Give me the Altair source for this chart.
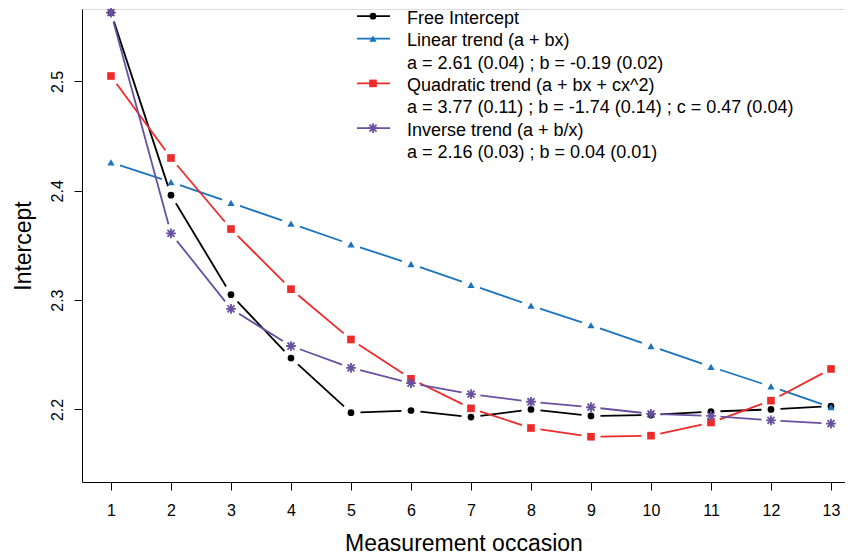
import altair as alt
import pandas as pd

# ---------------- data ----------------
occasion = list(range(1, 14))
free_intercept = [2.563, 2.396, 2.305, 2.247, 2.197, 2.199, 2.193, 2.200, 2.194, 2.195, 2.198, 2.200, 2.203]
linear_trend = [2.426, 2.408, 2.389, 2.370, 2.351, 2.333, 2.314, 2.295, 2.277, 2.258, 2.239, 2.221, 2.202]
quadratic_trend = [2.505, 2.430, 2.365, 2.310, 2.264, 2.228, 2.201, 2.183, 2.175, 2.176, 2.188, 2.208, 2.237]
inverse_trend = [2.563, 2.361, 2.292, 2.258, 2.238, 2.224, 2.214, 2.207, 2.202, 2.196, 2.194, 2.190, 2.187]

series_names = ["Free Intercept", "Linear trend", "Quadratic trend", "Inverse trend"]
series_values = [free_intercept, linear_trend, quadratic_trend, inverse_trend]

legend_texts = [
    "Free Intercept",
    "Linear trend (a + bx)",
    "a = 2.61 (0.04) ; b = -0.19 (0.02)",
    "Quadratic trend (a + bx + cx^2)",
    "a = 3.77 (0.11) ; b = -1.74 (0.14) ; c = 0.47 (0.04)",
    "Inverse trend (a + b/x)",
    "a = 2.16 (0.03) ; b = 0.04 (0.01)",
]
legend_series = ["Free Intercept", "Linear trend", "", "Quadratic trend", "", "Inverse trend", ""]

x_ticks = list(range(1, 14))
y_ticks = [2.2, 2.3, 2.4, 2.5]

# ---------------- styling ----------------
colors = ["#000000", "#1A73BE", "#EE2B2B", "#6950A0"]
ASTERISK = "M-1,0L1,0M0,-1L0,1M-0.72,-0.72L0.72,0.72M-0.72,0.72L0.72,-0.72"
shapes = ["circle", "triangle-up", "square", "circle"]
sizes = [45, 65, 50, 45]
FONT = "Liberation Sans"
NARROW = "'Liberation Sans Narrow', 'Liberation Sans', Arial, sans-serif"

PAD_L, PAD_T = 74, 1
W, H = 763, 473
X_DOM = [0.517, 0.517 + W / 60.0]
Y_DOM = [2.1336, 2.5663]
PX_X = W / (X_DOM[1] - X_DOM[0])   # px per x unit
PX_Y = H / (Y_DOM[1] - Y_DOM[0])   # px per y unit
GAP = 9.5                           # R type="b": px of line left out round each point

rows, pairs = [], []
for name, vals in zip(series_names, series_values):
    for o, v in zip(occasion, vals):
        rows.append({"occasion": o, "value": v, "series": name})
    for o1, v1, o2, v2 in zip(occasion[:-1], vals[:-1], occasion[1:], vals[1:]):
        pairs.append({"o1": o1, "v1": v1, "o2": o2, "v2": v2, "series": name})
df = pd.DataFrame(rows)
pair_df = pd.DataFrame(pairs)

leg = pd.DataFrame({"row": list(range(len(legend_texts))),
                    "label": legend_texts,
                    "series": legend_series})

x_scale = alt.Scale(domain=X_DOM, nice=False, zero=False)
y_scale = alt.Scale(domain=Y_DOM, nice=False, zero=False)
color_scale = alt.Scale(domain=series_names, range=colors)
shape_scale = alt.Scale(domain=series_names, range=shapes)
size_scale = alt.Scale(domain=series_names, range=sizes)

x_axis = alt.Axis(values=x_ticks, title="Measurement occasion", grid=False,
                  tickSize=8, tickColor="black", domainColor="black",
                  labelFontSize=16, labelPadding=12, labelColor="black",
                  labelFont=NARROW, titleFont=FONT, titleFontSize=23,
                  titleFontWeight="normal", titleColor="black", titlePadding=14,
                  labelFlush=False)
y_axis = alt.Axis(values=y_ticks, title="Intercept", grid=False, format=".1f",
                  tickSize=8, tickColor="black", domainColor="black",
                  labelFontSize=16, labelPadding=9, labelColor="black",
                  labelAngle=270, labelAlign="center", labelBaseline="bottom",
                  labelFont=NARROW, titleFont=FONT, titleFontSize=23,
                  titleFontWeight="normal", titleColor="black", titlePadding=14,
                  labelFlush=False)

X = alt.X("occasion:Q", scale=x_scale, axis=x_axis)
Y = alt.Y("value:Q", scale=y_scale, axis=y_axis)
COLOR = alt.Color("series:N", scale=color_scale, legend=None)

# connecting segments between consecutive points, with the R type="b" gap at both ends
segments = alt.Chart(pair_df).transform_calculate(
    L=f"sqrt(pow((datum.o2 - datum.o1) * {PX_X}, 2) + pow((datum.v2 - datum.v1) * {PX_Y}, 2))"
).transform_calculate(
    t=f"min(0.45, {GAP} / datum.L)"
).transform_calculate(
    a1="datum.o1 + datum.t * (datum.o2 - datum.o1)",
    b1="datum.v1 + datum.t * (datum.v2 - datum.v1)",
    a2="datum.o2 - datum.t * (datum.o2 - datum.o1)",
    b2="datum.v2 - datum.t * (datum.v2 - datum.v1)",
).mark_rule(strokeWidth=1.8).encode(
    x=alt.X("a1:Q", scale=x_scale, axis=x_axis),
    y=alt.Y("b1:Q", scale=y_scale, axis=y_axis),
    x2="a2:Q", y2="b2:Q",
    color=COLOR,
)

base = alt.Chart(df)
filled = base.transform_filter(alt.datum.series != "Inverse trend").mark_point(
    filled=True, opacity=1).encode(
    x=X, y=Y, color=COLOR,
    shape=alt.Shape("series:N", scale=shape_scale, legend=None),
    size=alt.Size("series:N", scale=size_scale, legend=None))
stars = base.transform_filter(alt.datum.series == "Inverse trend").mark_point(
    shape=ASTERISK, filled=False, size=95, strokeWidth=1.8, opacity=1).encode(
    x=X, y=Y, color=COLOR)

# ---------------- legend (pixel layout) ----------------
lg = alt.Chart(leg).transform_calculate(
    ty=f"18.7 + 22.4 * datum.row - {8 + PAD_T}",
    ly=f"16.2 + 22.4 * datum.row - {8 + PAD_T}",
    tx=f"{407 - 8 - PAD_L}",
    lx1=f"{357 - 8 - PAD_L}",
    lx2=f"{390 - 8 - PAD_L}",
    mx=f"{373 - 8 - PAD_L}",
)
leg_text = lg.mark_text(align="left", baseline="middle", fontSize=18, font=FONT,
                        color="black").encode(
    x=alt.X("tx:Q", scale=None), y=alt.Y("ty:Q", scale=None), text="label:N")
lg_sym = lg.transform_filter(alt.datum.series != "")
leg_line = lg_sym.mark_rule(strokeWidth=1.8).encode(
    x=alt.X("lx1:Q", scale=None), x2="lx2:Q", y=alt.Y("ly:Q", scale=None), color=COLOR)
leg_pts = lg_sym.transform_filter(alt.datum.series != "Inverse trend").mark_point(
    filled=True, opacity=1).encode(
    x=alt.X("mx:Q", scale=None), y=alt.Y("ly:Q", scale=None), color=COLOR,
    shape=alt.Shape("series:N", scale=shape_scale, legend=None),
    size=alt.Size("series:N", scale=size_scale, legend=None))
leg_ast = lg_sym.transform_filter(alt.datum.series == "Inverse trend").mark_point(
    shape=ASTERISK, filled=False, size=95, strokeWidth=1.8, opacity=1).encode(
    x=alt.X("mx:Q", scale=None), y=alt.Y("ly:Q", scale=None), color=COLOR)

chart = alt.layer(segments, filled, stars, leg_line, leg_pts, leg_ast, leg_text).properties(
    width=W, height=H,
    padding={"left": PAD_L, "top": PAD_T, "right": 0, "bottom": 70},
    autosize=alt.AutoSizeParams(type="none"),
).configure_view(stroke=None).configure(font=FONT)

chart.save("out.html", embed_options={"renderer": "svg", "actions": False})
